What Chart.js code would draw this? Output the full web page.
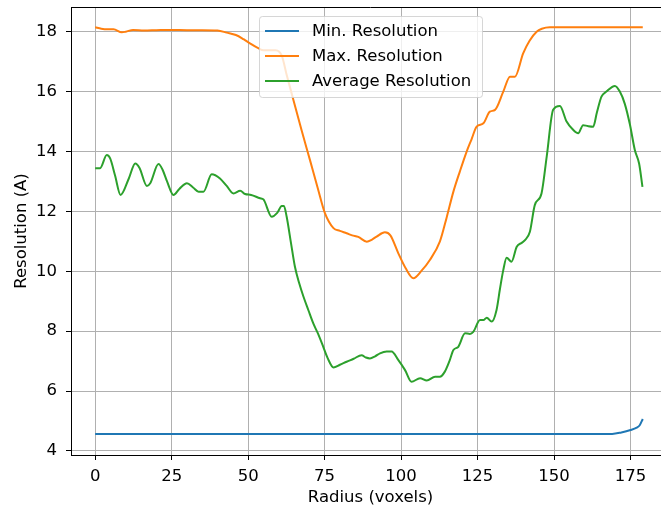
<!DOCTYPE html>
<html>
<head>
<meta charset="utf-8">
<script src="https://cdn.jsdelivr.net/npm/chart.js@4/dist/chart.umd.min.js"></script>
<style>
html, body { margin: 0; padding: 0; background: #fff; overflow: hidden; }
#wrap { width: 690px; height: 508px; }
</style>
</head>
<body>
<div id="wrap"><canvas id="myChart"></canvas></div>
<script>
// 半径 (voxels) と解像度 (A) ... 図から読み取った値
var min_r   = [0, 169, 172, 175, 177, 178, 179];
var min_res = [4.57, 4.57, 4.62, 4.70, 4.78, 4.86, 5.07];

var max_r   = [0, 2, 4, 6, 8.7, 10, 12.4, 16, 20, 25, 30, 35, 40, 43, 46, 48.5, 50.6, 53.3, 55, 59, 61, 62.5, 64.8, 67.5, 70.2, 72.7, 75.1, 77.9, 80, 82.2, 84, 86, 88.8, 90.5, 92, 94.7, 96.5, 99.1, 101.5, 104, 106.7, 109.4, 112.7, 114.9, 117.1, 119.2, 121.4, 123, 124.7, 126.9, 129, 130.7, 133.4, 135.6, 137.2, 139.9, 142, 144.3, 146, 148.6, 179];
var max_res = [18.15, 18.1, 18.08, 18.08, 17.98, 18.0, 18.06, 18.04, 18.05, 18.06, 18.05, 18.05, 18.04, 17.97, 17.89, 17.75, 17.61, 17.45, 17.38, 17.38, 17.2, 16.6, 15.72, 14.7, 13.72, 12.8, 11.94, 11.44, 11.35, 11.27, 11.2, 11.15, 10.99, 11.06, 11.16, 11.3, 11.2, 10.6, 10.1, 9.77, 10.02, 10.38, 11.0, 11.8, 12.66, 13.33, 13.99, 14.4, 14.83, 14.94, 15.33, 15.39, 16.0, 16.5, 16.5, 17.28, 17.7, 18.0, 18.1, 18.15, 18.15];

var avg_r   = [0, 1.6, 3.8, 4.9, 6.5, 8.3, 11, 13.1, 14.5, 16.9, 18, 20.7, 22, 23.5, 25.6, 27.5, 30, 32, 33.8, 35.4, 38.1, 40.8, 43, 45.2, 47.4, 49, 51, 53.9, 55, 57.7, 59.5, 61, 61.7, 62.6, 64, 65.3, 66.7, 68.1, 69.7, 71.3, 72.7, 74.1, 76, 77.9, 80, 82.2, 84.5, 87.1, 88.5, 89.8, 91.5, 93.1, 95.3, 96.9, 99, 101.3, 103.4, 106.2, 108.4, 111.1, 112.7, 114.3, 115.8, 117.1, 118.7, 120.9, 122.5, 123.6, 125.8, 126.9, 128, 129.6, 131.2, 132.3, 133.4, 134.5, 136.1, 137.8, 139.4, 140.5, 142.1, 143.7, 145.9, 147.6, 149.7, 151.9, 154.1, 156, 157.9, 159.5, 161, 162.8, 164, 165.5, 167.1, 169.9, 171.5, 173.1, 174.8, 176.4, 177.8, 178.9];
var avg_res = [13.44, 13.44, 13.88, 13.77, 13.2, 12.55, 13.1, 13.6, 13.45, 12.85, 12.94, 13.58, 13.4, 13.0, 12.55, 12.75, 12.94, 12.8, 12.66, 12.66, 13.24, 13.1, 12.85, 12.6, 12.69, 12.58, 12.55, 12.44, 12.4, 11.82, 11.95, 12.18, 12.18, 11.82, 10.95, 10.15, 9.6, 9.15, 8.7, 8.26, 7.95, 7.6, 7.1, 6.79, 6.88, 6.98, 7.08, 7.2, 7.12, 7.09, 7.16, 7.26, 7.32, 7.32, 7.05, 6.7, 6.31, 6.43, 6.35, 6.48, 6.48, 6.65, 7.0, 7.37, 7.48, 7.93, 7.91, 7.98, 8.37, 8.37, 8.45, 8.32, 8.71, 9.4, 10.04, 10.45, 10.32, 10.82, 10.95, 11.04, 11.32, 12.21, 12.6, 13.83, 15.39, 15.52, 15.0, 14.75, 14.61, 14.88, 14.85, 14.83, 15.3, 15.83, 16.0, 16.19, 16.0, 15.6, 14.9, 14.05, 13.6, 12.82];

var x_ticks_step = 25;
var y_ticks_step = 2;

var FONT = 'DejaVu Sans';
var FSIZE = 16.5;

function to_points(xs, ys) {
	var p = [];
	for (var i = 0; i < xs.length; i++) p.push({x: xs[i], y: ys[i]});
	return p;
}

/* 上と右の枠線 */
var frame_plugin = {
	id: 'frame',
	afterDraw: function(chart) {
		var a = chart.chartArea, c = chart.ctx;
		c.save();
		c.strokeStyle = '#000';
		c.lineWidth = 1;
		c.beginPath();
		c.moveTo(a.left, a.top + 0.5);
		c.lineTo(a.right, a.top + 0.5);
		c.lineTo(a.right, a.bottom);
		c.stroke();
		c.restore();
	}
};

/* matplotlib風の凡例（グラフ内） */
var legend_plugin = {
	id: 'mplLegend',
	afterDatasetsDraw: function(chart) {
		var a = chart.chartArea, c = chart.ctx;
		var w = 223, h = 81;
		var x0 = (a.left + a.right) / 2 - w / 2;
		var y0 = a.top + 9;
		c.save();
		c.beginPath();
		c.roundRect(x0 + 0.5, y0 + 0.5, w, h, 3);
		c.fillStyle = 'rgba(255,255,255,0.8)';
		c.fill();
		c.strokeStyle = 'rgba(204,204,204,0.8)';
		c.lineWidth = 1;
		c.stroke();
		c.font = FSIZE + 'px "' + FONT + '"';
		c.textBaseline = 'middle';
		chart.data.datasets.forEach(function(ds, i) {
			var yy = y0 + 15 + i * 25;
			c.strokeStyle = ds.borderColor;
			c.lineWidth = 2;
			c.beginPath();
			c.moveTo(x0 + 6, yy);
			c.lineTo(x0 + 40, yy);
			c.stroke();
			c.fillStyle = '#000';
			c.fillText(ds.label, x0 + 53, yy + 1);
		});
		c.restore();
	}
};

var ctx = document.getElementById('myChart').getContext('2d');

var myChart = new Chart(ctx, {
	type: 'line',
	data: {
		datasets: [
			{
				label: 'Min. Resolution',
				data: to_points(min_r, min_res),
				borderColor: '#1f77b4'
			}, {
				label: 'Max. Resolution',
				data: to_points(max_r, max_res),
				borderColor: '#ff7f0e'
			}, {
				label: 'Average Resolution',
				data: to_points(avg_r, avg_res),
				borderColor: '#2ca02c'
			}
		]
	},
	options: {
		responsive: true,
		maintainAspectRatio: false,
		animation: false,
		layout: { padding: { left: 0, top: 7, right: 20, bottom: 0 } },
		elements: {
			point: { radius: 0 },
			line: { borderWidth: 2, fill: false, cubicInterpolationMode: 'monotone' }
		},
		plugins: {
			legend: { display: false },
			tooltip: { enabled: false }
		},
		scales: {
			x: {
				type: 'linear',
				min: -7.9,
				max: 187.9,
				afterFit: function(s) {
					s.height = 53;
					s.paddingLeft = 0;
					s.paddingRight = 0;
				},
				ticks: {
					stepSize: x_ticks_step,
					includeBounds: false,
					color: '#000',
					font: { family: FONT, size: FSIZE },
					padding: 7,
					maxRotation: 0
				},
				grid: { color: '#b0b0b0', lineWidth: 1, tickColor: '#000', tickLength: 5 },
				border: { color: '#000', width: 1 },
				title: {
					display: true,
					text: 'Radius (voxels)',
					color: '#000',
					font: { family: FONT, size: FSIZE },
					padding: { top: 0, bottom: 0 }
				}
			},
			y: {
				type: 'linear',
				min: 3.866,
				max: 18.825,
				afterFit: function(s) {
					s.width = 71;
					s.paddingTop = 0;
					s.paddingBottom = 0;
				},
				ticks: {
					stepSize: y_ticks_step,
					includeBounds: false,
					color: '#000',
					font: { family: FONT, size: FSIZE },
					padding: 9
				},
				grid: { color: '#b0b0b0', lineWidth: 1, tickColor: '#000', tickLength: 5 },
				border: { color: '#000', width: 1 },
				title: {
					display: true,
					text: 'Resolution (A)',
					color: '#000',
					font: { family: FONT, size: FSIZE },
					padding: { top: 12, bottom: 0 }
				}
			}
		}
	},
	plugins: [frame_plugin, legend_plugin]
});
</script>
</body>
</html>
